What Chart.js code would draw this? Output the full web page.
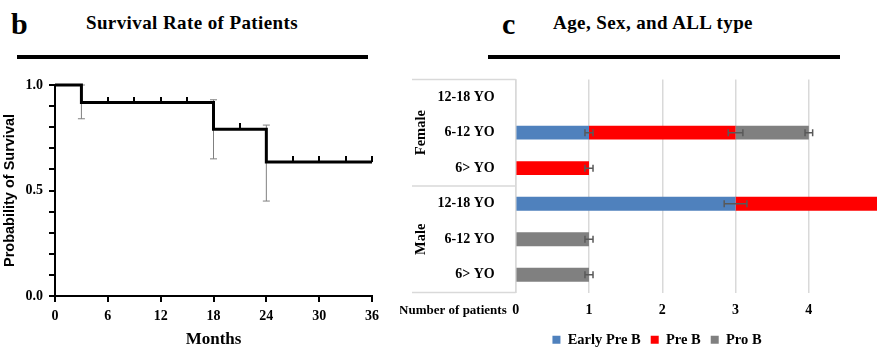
<!DOCTYPE html>
<html>
<head>
<meta charset="utf-8">
<script src="https://cdn.jsdelivr.net/npm/chart.js@4.4.1/dist/chart.umd.min.js"></script>
<style>
  body { margin: 0; width: 877px; height: 349px; background: #fff; position: relative; overflow: hidden; font-family: "Liberation Serif", "Times New Roman", serif; }
  .lbl { position: absolute; font-weight: bold; line-height: 1; white-space: nowrap; color: #000; }
  .rule { position: absolute; height: 4px; background: #000; }
  canvas { position: absolute; }
</style>
</head>
<body>
<div class="lbl" style="left:11px;top:9px;font-size:30px">b</div>
<div class="lbl" style="left:192px;top:13px;font-size:19px;letter-spacing:0.4px;transform:translateX(-50%)">Survival Rate of Patients</div>
<div class="rule" style="left:17px;top:55px;width:351px"></div>

<div class="lbl" style="left:502px;top:9px;font-size:30px">c</div>
<div class="lbl" style="left:653px;top:13px;font-size:19px;letter-spacing:0.4px;transform:translateX(-50%)">Age, Sex, and ALL type</div>
<div class="rule" style="left:488px;top:55px;width:352px"></div>

<canvas id="kmChart" width="400" height="279" style="left:0;top:70px;width:400px;height:279px"></canvas>
<canvas id="barChart" width="477" height="299" style="left:400px;top:58px;width:477px;height:299px"></canvas>

<script>
// --- b: Kaplan-Meier survival ---
const kmMonths = [0, 3, 18, 24, 36];
const kmSurvival = [1.0, 0.917, 0.79, 0.635, 0.635];
const censorMonths = [6, 9, 12, 15, 21, 27, 30, 33, 36];
const censorSurvival = [0.917, 0.917, 0.917, 0.917, 0.79, 0.635, 0.635, 0.635, 0.635];
const errMonths = [3, 18, 24];
const errLower = [0.84, 0.65, 0.45];
const errUpper = [1.0, 0.93, 0.81];

// --- c: age, sex, ALL type ---
const sexGroups = ['Female', 'Male'];
const ageLabels = ['12-18 YO', '6-12 YO', '6> YO', '12-18 YO', '6-12 YO', '6> YO'];
const earlyPreB = [0, 1, 0, 3, 0, 0];
const preB = [0, 2, 1, 2, 0, 0];
const proB = [0, 1, 0, 0, 1, 1];
const earlyPreBErr = [0, 0.055, 0, 0.155, 0, 0];
const preBErr = [0, 0.1, 0.055, 0.05, 0, 0];
const proBErr = [0, 0.052, 0, 0, 0.055, 0.055];

const SERIF = '"Liberation Serif", "Times New Roman", serif';
const SANS = '"Liberation Sans", Arial, sans-serif';

// small upward tick used as censor mark
const censorMark = document.createElement('canvas');
censorMark.width = 2;
censorMark.height = 12;
const cm = censorMark.getContext('2d');
cm.fillStyle = '#000';
cm.fillRect(0, 0, 2, 6);

const kmErrorBars = {
  id: 'kmErrorBars',
  beforeDatasetsDraw(chart) {
    const { ctx, scales: { x, y } } = chart;
    ctx.save();
    ctx.strokeStyle = '#808080';
    ctx.lineWidth = 1;
    errMonths.forEach((m, i) => {
      const px = x.getPixelForValue(m);
      const lo = y.getPixelForValue(errLower[i]);
      const hi = y.getPixelForValue(errUpper[i]);
      ctx.beginPath();
      ctx.moveTo(px, lo); ctx.lineTo(px, hi);
      ctx.moveTo(px - 3.5, lo); ctx.lineTo(px + 3.5, lo);
      ctx.moveTo(px - 3.5, hi); ctx.lineTo(px + 3.5, hi);
      ctx.stroke();
    });
    ctx.restore();
  }
};

new Chart(document.getElementById('kmChart'), {
  type: 'line',
  data: {
    datasets: [
      {
        data: kmMonths.map((m, i) => ({ x: m, y: kmSurvival[i] })),
        stepped: true,
        borderColor: '#000',
        borderWidth: 3,
        pointRadius: 0,
        fill: false,
        clip: false
      },
      {
        type: 'scatter',
        data: censorMonths.map((m, i) => ({ x: m, y: censorSurvival[i] })),
        pointStyle: censorMark,
        showLine: false,
        clip: false
      }
    ]
  },
  options: {
    responsive: false,
    animation: false,
    events: [],
    layout: { padding: { top: 15, right: 28, left: 0, bottom: 0 } },
    plugins: { legend: { display: false }, tooltip: { enabled: false } },
    scales: {
      x: {
        type: 'linear',
        min: 0, max: 36,
        ticks: { stepSize: 6, color: '#000', padding: 6, font: { family: SERIF, size: 14, weight: 'bold' } },
        grid: { drawOnChartArea: false, color: '#000', lineWidth: 2, tickLength: 6 },
        border: { color: '#000', width: 2 },
        title: { display: true, text: 'Months', color: '#000', padding: { top: 0, bottom: -1 }, font: { family: SERIF, size: 17, weight: 'bold' } },
        afterFit: s => { s.height = 53; }
      },
      y: {
        min: 0, max: 1,
        ticks: {
          stepSize: 0.1, color: '#000', padding: 6,
          font: { family: SERIF, size: 14, weight: 'bold' },
          callback: v => Math.abs(v * 2 - Math.round(v * 2)) < 1e-6 ? v.toFixed(1) : ''
        },
        grid: { drawOnChartArea: false, color: '#000', lineWidth: 2, tickLength: 6 },
        border: { color: '#000', width: 2 },
        title: { display: true, text: 'Probability of Survival', color: '#000', padding: { top: 1, bottom: 0 }, font: { family: SANS, size: 14.5, weight: 'bold' } },
        afterFit: s => { s.width = 55; }
      }
    }
  },
  plugins: [kmErrorBars]
});

// error bars at the end of each stacked segment + sex grouping
const barExtras = {
  id: 'barExtras',
  afterDatasetsDraw(chart) {
    const { ctx, scales: { x, y } } = chart;
    const errs = [earlyPreBErr, preBErr, proBErr];
    ctx.save();
    ctx.strokeStyle = '#595959';
    ctx.lineWidth = 1.5;
    chart.data.datasets.forEach((ds, di) => {
      ds.data.forEach((v, j) => {
        const e = errs[di][j];
        if (!v || !e) return;
        let end = 0;
        for (let k = 0; k <= di; k++) end += chart.data.datasets[k].data[j];
        const py = y.getPixelForValue(j);
        const a = x.getPixelForValue(end - e);
        const b = x.getPixelForValue(end + e);
        ctx.beginPath();
        ctx.moveTo(a, py); ctx.lineTo(b, py);
        ctx.moveTo(a, py - 3.5); ctx.lineTo(a, py + 3.5);
        ctx.moveTo(b, py - 3.5); ctx.lineTo(b, py + 3.5);
        ctx.stroke();
      });
    });
    ctx.restore();
  },
  afterDraw(chart) {
    const { ctx, chartArea, scales: { x, y } } = chart;
    const left = 12;
    const mid = (y.getPixelForValue(2) + y.getPixelForValue(3)) / 2;
    ctx.save();
    ctx.strokeStyle = '#d9d9d9';
    ctx.lineWidth = 1.5;
    [chartArea.top, mid, chartArea.bottom].forEach(py => {
      ctx.beginPath();
      ctx.moveTo(left, py); ctx.lineTo(chartArea.left, py);
      ctx.stroke();
    });
    ctx.fillStyle = '#000';
    ctx.font = 'bold 14.5px ' + SERIF;
    ctx.textAlign = 'center';
    ctx.textBaseline = 'middle';
    sexGroups.forEach((g, i) => {
      ctx.save();
      ctx.translate(21.5, y.getPixelForValue(i * 3 + 1));
      ctx.rotate(-Math.PI / 2);
      ctx.fillText(g, 0, 0);
      ctx.restore();
    });
    ctx.font = 'bold 13px ' + SERIF;
    ctx.textAlign = 'right';
    ctx.textBaseline = 'alphabetic';
    ctx.fillText('Number of patients', chartArea.left - 9, x.top + 21);
    ctx.restore();
  }
};

new Chart(document.getElementById('barChart'), {
  type: 'bar',
  data: {
    labels: ageLabels,
    datasets: [
      { label: 'Early Pre B', data: earlyPreB, backgroundColor: '#4f81bd' },
      { label: 'Pre B', data: preB, backgroundColor: '#ff0000' },
      { label: 'Pro B', data: proB, backgroundColor: '#808080' }
    ]
  },
  options: {
    indexAxis: 'y',
    responsive: false,
    animation: false,
    events: [],
    datasets: { bar: { barPercentage: 0.39, categoryPercentage: 1, borderWidth: 0 } },
    layout: { padding: { top: 14.2, right: 0, left: 37, bottom: 0 } },
    plugins: {
      tooltip: { enabled: false },
      legend: {
        position: 'bottom',
        labels: {
          boxWidth: 8, boxHeight: 8, padding: 10, color: '#000',
          font: { family: SERIF, size: 14.5, weight: 'bold' }
        }
      }
    },
    scales: {
      x: {
        stacked: true,
        min: 0, max: 4.93,
        ticks: { stepSize: 1, color: '#000', padding: 9, font: { family: SERIF, size: 14, weight: 'bold' } },
        afterBuildTicks: s => { s.ticks = s.ticks.filter(t => Number.isInteger(t.value)); },
        grid: { color: '#d9d9d9', lineWidth: 1.5, drawTicks: false },
        border: { display: false },
        afterFit: s => { s.height = 30; }
      },
      y: {
        stacked: true,
        ticks: { color: '#000', padding: 13, font: { family: SERIF, size: 14, weight: 'bold' } },
        grid: { display: false },
        border: { display: true, color: '#d9d9d9', width: 1.5 },
        afterFit: s => { s.width = 78.7; }
      }
    }
  },
  plugins: [barExtras]
});
</script>
</body>
</html>
